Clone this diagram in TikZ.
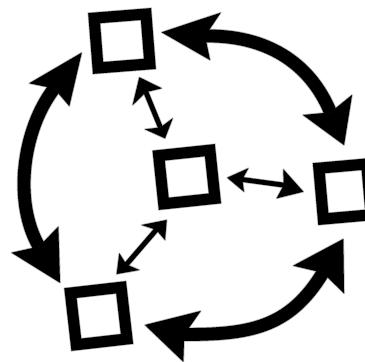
\documentclass[tikz,border=0pt]{standalone}
\begin{document}
\begin{tikzpicture}[x=1pt,y=-1pt,
  sq/.style={rectangle, inner sep=0pt, draw=gray!60, line width=0.7pt, double=black, double distance=11pt},
  bigshaftgray/.style={draw=gray!60, line width=14.4pt},
  bigshaft/.style={draw=black, line width=12.8pt},
  smallshaftgray/.style={draw=gray!60, line width=6.2pt},
  smallshaft/.style={draw=black, line width=4.8pt},
  headgray/.style={fill=gray!60, draw=gray!60, line width=1.6pt, line join=round},
  headblack/.style={fill=black}
]
\useasboundingbox (0,0) rectangle (365,362);
% squares
\node[sq, minimum width=52pt, minimum height=50pt, rotate=4.5] (sqT) at (122,41) {};
\node[sq, minimum width=51.5pt, minimum height=48.5pt, rotate=6] (sqC) at (186.8,177) {};
\node[sq, minimum width=48pt, minimum height=51pt, rotate=5] (sqR) at (345,191.5) {};
\node[sq, minimum width=51pt, minimum height=52pt, rotate=6.5] (sqB) at (98.7,316) {};

% ---------- big arrow: top square <-> right square
\coordinate (h1t) at (161.7,32.3); \coordinate (h1u) at (220.7,12.7);
\coordinate (h1v) at (210,60);     \coordinate (h1i) at (205,36);
\coordinate (k1t) at (344,145);    \coordinate (k1u) at (303,115);
\coordinate (k1v) at (352,95);     \coordinate (k1i) at (330.5,112.4);
\coordinate (c1a) at (265,35);     \coordinate (c1b) at (309.5,61.6);
% ---------- big arrow: top square <-> bottom square (left)
\coordinate (h2t) at (81.7,52.7);  \coordinate (h2u) at (29.3,83.3);
\coordinate (h2v) at (69.3,106);   \coordinate (h2i) at (54.2,88.4);
\coordinate (k2t) at (60,282.7);   \coordinate (k2u) at (11.7,252.7);
\coordinate (k2v) at (58.3,226.7); \coordinate (k2i) at (39,246.6);
\coordinate (c2a) at (22.5,129.5); \coordinate (c2b) at (13,201.6);
% ---------- big arrow: bottom square <-> right square
\coordinate (h3t) at (145,325);    \coordinate (h3u) at (200.7,311);
\coordinate (h3v) at (183.3,361.7);\coordinate (h3i) at (184.2,334.5);
\coordinate (k3t) at (343.3,239);  \coordinate (k3u) at (293.3,265.7);
\coordinate (k3v) at (344,293.3);  \coordinate (k3i) at (322.9,272.7);
\coordinate (c3a) at (249.2,334.5);\coordinate (c3b) at (289.2,328.2);
% ---------- small arrows
\coordinate (s1t) at (139.3,77.3); \coordinate (s1u) at (132.7,105);
\coordinate (s1v) at (161.7,88.3); \coordinate (s1i) at (145.9,92.1);
\coordinate (r1t) at (165,138.3);  \coordinate (r1u) at (145,129.3);
\coordinate (r1v) at (172.7,118.3);\coordinate (r1i) at (160.4,127.5);
\coordinate (s2t) at (227.3,177.7);\coordinate (s2u) at (248.3,168.3);
\coordinate (s2v) at (244,191.7);  \coordinate (s2i) at (242.2,179.5);
\coordinate (r2t) at (303.3,191.7);\coordinate (r2u) at (283.3,169.3);
\coordinate (r2v) at (276.7,198.3);\coordinate (r2i) at (283.8,185.1);
\coordinate (s3t) at (166.7,220);  \coordinate (s3u) at (141.7,225);
\coordinate (s3v) at (165,240);    \coordinate (s3i) at (156.3,229.8);
\coordinate (r3t) at (116.7,274);  \coordinate (r3u) at (119.3,253.3);
\coordinate (r3v) at (139.3,270);  \coordinate (r3i) at (126.4,264.5);

% grey rims (under layer)
\draw[bigshaftgray] (h1i) .. controls (c1a) and (c1b) .. (k1i);
\draw[bigshaftgray] (h2i) .. controls (c2a) and (c2b) .. (k2i);
\draw[bigshaftgray] (h3i) .. controls (c3a) and (c3b) .. (k3i);
\draw[smallshaftgray] (s1i) -- (r1i);
\draw[smallshaftgray] (s2i) -- (r2i);
\draw[smallshaftgray] (s3i) -- (r3i);
\filldraw[headgray]
  (h1t) -- (h1u) -- (h1i) -- (h1v) -- cycle (k1t) -- (k1u) -- (k1i) -- (k1v) -- cycle
  (h2t) -- (h2u) -- (h2i) -- (h2v) -- cycle (k2t) -- (k2u) -- (k2i) -- (k2v) -- cycle
  (h3t) -- (h3u) -- (h3i) -- (h3v) -- cycle (k3t) -- (k3u) -- (k3i) -- (k3v) -- cycle
  (s1t) -- (s1u) -- (s1i) -- (s1v) -- cycle (r1t) -- (r1u) -- (r1i) -- (r1v) -- cycle
  (s2t) -- (s2u) -- (s2i) -- (s2v) -- cycle (r2t) -- (r2u) -- (r2i) -- (r2v) -- cycle
  (s3t) -- (s3u) -- (s3i) -- (s3v) -- cycle (r3t) -- (r3u) -- (r3i) -- (r3v) -- cycle;

% black connectors
\draw[bigshaft] (h1i) .. controls (c1a) and (c1b) .. (k1i);
\draw[bigshaft] (h2i) .. controls (c2a) and (c2b) .. (k2i);
\draw[bigshaft] (h3i) .. controls (c3a) and (c3b) .. (k3i);
\draw[smallshaft] (s1i) -- (r1i);
\draw[smallshaft] (s2i) -- (r2i);
\draw[smallshaft] (s3i) -- (r3i);
\fill[headblack]
  (h1t) -- (h1u) -- (h1i) -- (h1v) -- cycle (k1t) -- (k1u) -- (k1i) -- (k1v) -- cycle
  (h2t) -- (h2u) -- (h2i) -- (h2v) -- cycle (k2t) -- (k2u) -- (k2i) -- (k2v) -- cycle
  (h3t) -- (h3u) -- (h3i) -- (h3v) -- cycle (k3t) -- (k3u) -- (k3i) -- (k3v) -- cycle
  (s1t) -- (s1u) -- (s1i) -- (s1v) -- cycle (r1t) -- (r1u) -- (r1i) -- (r1v) -- cycle
  (s2t) -- (s2u) -- (s2i) -- (s2v) -- cycle (r2t) -- (r2u) -- (r2i) -- (r2v) -- cycle
  (s3t) -- (s3u) -- (s3i) -- (s3v) -- cycle (r3t) -- (r3u) -- (r3i) -- (r3v) -- cycle;
\end{tikzpicture}
\end{document}
